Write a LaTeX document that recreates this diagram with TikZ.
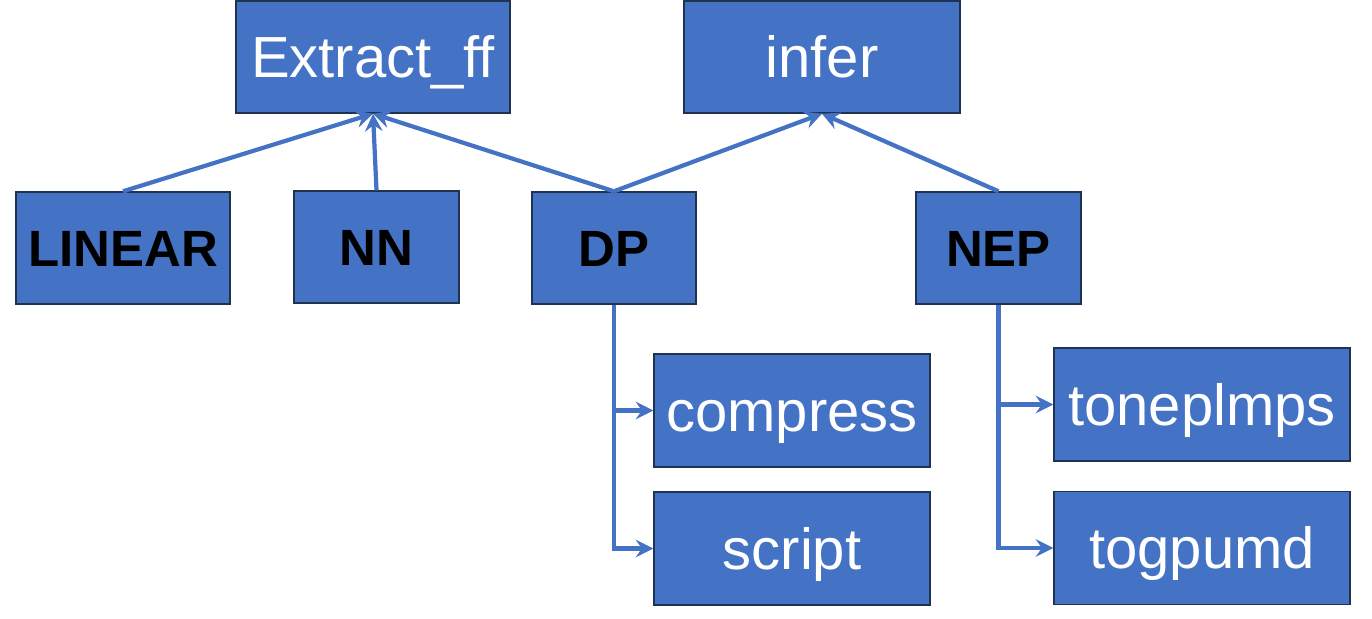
\documentclass[tikz,border=0pt]{standalone}
\usepackage{fontspec}
\setmainfont{Liberation Sans}
\usetikzlibrary{arrows.meta}
\definecolor{boxblue}{HTML}{4472C4}
\definecolor{boxedge}{HTML}{1F3250}
\begin{document}
\begin{tikzpicture}[
  box/.style={draw=boxedge,line width=0.8pt,fill=boxblue,minimum height=2.24cm,inner sep=0pt,text depth=0pt},
  lbl/.style={box,text=white,text height=23.5pt,font=\fontsize{33}{38}\selectfont},
  mid/.style={box,text=black,text height=20.8pt,font=\fontsize{29}{34}\selectfont\bfseries},
  link/.style={draw=boxblue,line width=2.4pt,-{Stealth[length=10pt,width=10pt,inset=3.5pt]}}]
\useasboundingbox (0,0) rectangle (27.44,-12.38);
% top row
\node[lbl,minimum width=5.48cm] (extract) at (7.46,-1.14) {Extract\_ff};
\node[lbl,minimum width=5.52cm] (infer) at (16.44,-1.14) {infer};
% middle row
\node[mid,minimum width=4.28cm] (linear) at (2.46,-4.96) {LINEAR};
\node[mid,minimum width=3.3cm] (nn) at (7.53,-4.94) {NN};
\node[mid,minimum width=3.28cm] (dp) at (12.28,-4.96) {DP};
\node[mid,minimum width=3.3cm] (nep) at (19.97,-4.96) {NEP};
% bottom rows
\node[lbl,minimum width=5.52cm,minimum height=2.26cm] (compress) at (15.84,-8.21) {compress};
\node[lbl,minimum width=5.52cm,minimum height=2.26cm] (script) at (15.84,-10.97) {script};
\node[lbl,minimum width=5.92cm,minimum height=2.26cm] (toneplmps) at (24.04,-8.09) {toneplmps};
\node[lbl,minimum width=5.92cm,minimum height=2.26cm] (togpumd) at (24.04,-10.96) {togpumd};
% links
\draw[link] (linear.north) -- (extract.south);
\draw[link] (nn.north) -- (extract.south);
\draw[link] (dp.north) -- (extract.south);
\draw[link] (dp.north) -- (infer.south);
\draw[link] (nep.north) -- (infer.south);
\draw[link] (dp.south) |- (compress.west);
\draw[link] (dp.south) |- (script.west);
\draw[link] (nep.south) |- (toneplmps.west);
\draw[link] (nep.south) |- (togpumd.west);
\end{tikzpicture}
\end{document}
